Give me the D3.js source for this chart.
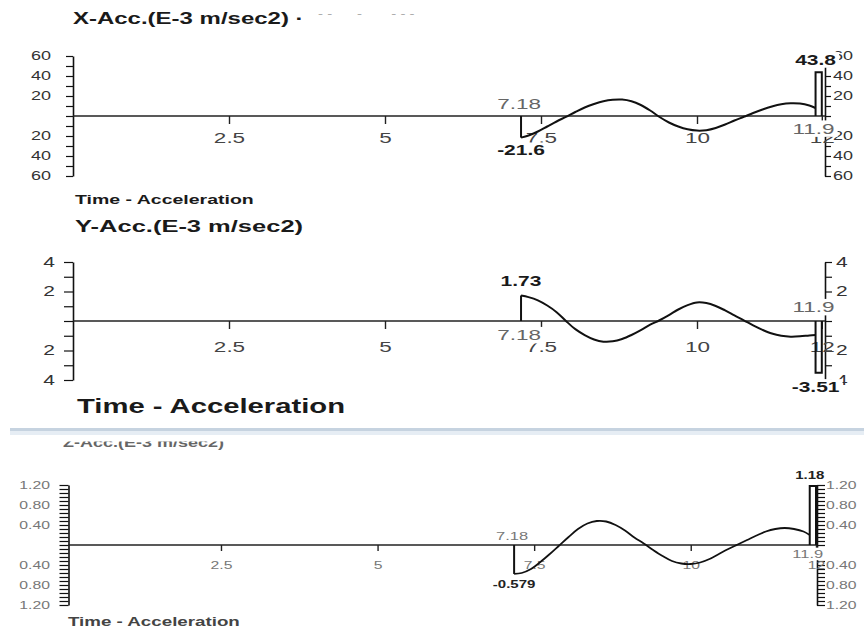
<!DOCTYPE html>
<html>
<head>
<meta charset="utf-8">
<script src="https://cdn.jsdelivr.net/npm/d3@7"></script>
<style>
  html, body { margin: 0; padding: 0; background: #fff; }
  svg { display: block; font-family: "Liberation Sans", Arial, Helvetica, sans-serif; }
</style>
</head>
<body>
<svg id="chart" width="864" height="633"></svg>
<script>
// Sample times (s) shared by the three acceleration channels
const sampleTimes = [7.18, 7.3, 7.45, 7.6, 7.75, 7.9, 8.05, 8.2, 8.35, 8.5, 8.65, 8.8, 8.95,
  9.1, 9.25, 9.4, 9.55, 9.7, 9.85, 10.0, 10.15, 10.3, 10.45, 10.6, 10.75, 10.9, 11.05,
  11.2, 11.35, 11.5, 11.65, 11.8, 11.9];

// Acceleration readings (E-3 m/sec2)
const xAccValues = [-21.6, -19.5, -15.5, -10.5, -5.5, -0.8, 4, 8.5, 12, 14.8, 16.3, 16.5, 14.8,
  11, 5.5, -1, -6.5, -10.5, -13.3, -14.6, -14.2, -12, -8.5, -4.5, -0.8, 3, 6.5,
  9.5, 11.8, 12.8, 12.5, 10.5, 8];
const yAccValues = [1.73, 1.62, 1.4, 1.05, 0.6, 0.0, -0.55, -0.95, -1.25, -1.4, -1.38, -1.22, -0.95,
  -0.62, -0.25, 0.05, 0.4, 0.78, 1.08, 1.26, 1.22, 1.02, 0.72, 0.38, 0.05, -0.3, -0.6,
  -0.85, -1.0, -1.06, -1.04, -0.98, -0.95];
const zAccValues = [-0.579, -0.56, -0.48, -0.34, -0.18, -0.01, 0.16, 0.32, 0.43, 0.48, 0.47, 0.4, 0.29,
  0.15, 0.03, -0.1, -0.22, -0.32, -0.37, -0.38, -0.35, -0.28, -0.18, -0.08, 0.01, 0.1, 0.19,
  0.27, 0.32, 0.34, 0.32, 0.27, 0.2];

// Peak reached by the closing spike of each record
const endValues = [43.8, -3.51, 1.18];
const startTime = 7.18;
const endTime = 11.9;
const spikeEndTime = 12;

// Axis ticks
const timeTicks = [2.5, 5, 7.5, 10, 12];
const yLimits = [60, 4, 1.2];
const yMinorCounts = [6, 4, 15];      // minor ticks on each side of zero
const yLabelEvery = [2, 2, 5];        // label every n-th minor tick
const yLabelDigits = [0, 0, 2];

const channelTitles = ["X-Acc.(E-3 m/sec2)", "Y-Acc.(E-3 m/sec2)", "Z-Acc.(E-3 m/sec2)"];
const footerTitle = "Time - Acceleration";

// Layout of the three stacked panels
const layouts = [
  { xr: [73, 821.8], axisL: 73, axisR: 825, zeroY: 116, yr: [176, 56],
    title: { x: 73, y: 24, size: 16, fill: "#1a1a1a" },
    footer: { x: 75, y: 204, size: 13, fill: "#1a1a1a" },
    leftTick: 7, leftGap: 22, rightTick: 6, rightGap: 8, axisFont: 12, axisFill: "#333",
    xTickLen: 8, xLabelGap: 22, xFont: 15, xFill: "#444",
    timeFont: 15, timeFill: "#666", valueFont: 14, valueFill: "#1a1a1a",
    timeGap: 12.5, valueGap: 12.5, sx: 1.5, lineW: 2 },
  { xr: [73, 821.8], axisL: 73, axisR: 825, zeroY: 321, yr: [380, 262],
    title: { x: 75, y: 232, size: 17, fill: "#1a1a1a" },
    footer: { x: 77, y: 413, size: 19.5, fill: "#1a1a1a" },
    leftTick: 9, leftGap: 18, rightTick: 7, rightGap: 11, axisFont: 14, axisFill: "#333",
    xTickLen: 8, xLabelGap: 26, xFont: 15, xFill: "#444",
    timeFont: 15, timeFill: "#666", valueFont: 14, valueFill: "#1a1a1a",
    timeGap: 14, valueGap: 14, sx: 1.5, lineW: 2 },
  { xr: [64.4, 816], axisL: 68.5, axisR: 817, zeroY: 545, yr: [605, 485],
    title: { x: 63, y: 447, size: 12, fill: "#666", clipTop: 441.5 },
    footer: { x: 68, y: 626, size: 12.5, fill: "#444" },
    leftTick: 9, leftGap: 18.5, rightTick: 8, rightGap: 9, axisFont: 10.5, axisFill: "#777",
    xTickLen: 6, xLabelGap: 20, xFont: 10.5, xFill: "#777",
    timeFont: 11, timeFill: "#777", valueFont: 10, valueFill: "#222",
    timeGap: 9, valueGap: 10.5, sx: 1.5, lineW: 1.8 }
];

const seriesValues = [xAccValues, yAccValues, zAccValues];
const svg = d3.select("#chart");

// Text stretched horizontally, optionally on a white plate that hides what is under it
function stretchedText(parent, x, y, str, o) {
  const g = parent.append("g").attr("transform", `translate(${x},${y}) scale(${o.sx},1)`);
  const t = g.append("text")
    .attr("text-anchor", o.anchor || "start")
    .attr("dy", o.dy || null)
    .style("font-size", o.size + "px")
    .style("font-weight", o.weight || "normal")
    .attr("fill", o.fill || "#222")
    .text(str);
  if (o.plate) {
    const b = t.node().getBBox();
    g.insert("rect", "text")
      .attr("x", b.x - 2).attr("y", b.y)
      .attr("width", b.width + 4).attr("height", b.height)
      .attr("fill", "#fff");
  }
  return g;
}

function styleAxisText(g, L, anchorAttr) {
  g.attr("font-family", null).attr("font-size", null);
  g.selectAll(".tick text").each(function () {
    const t = d3.select(this);
    const v = +t.attr(anchorAttr) || 0;
    t.attr(anchorAttr, anchorAttr === "x" ? v / L.sx : v)
      .attr("transform", `scale(${L.sx},1)`);
  });
}

layouts.forEach((L, i) => {
  const panel = svg.append("g").attr("class", "panel");
  const values = seriesValues[i];
  const lim = yLimits[i];
  const x = d3.scaleLinear().domain([0, 12]).range(L.xr);
  const y = d3.scaleLinear().domain([-lim, lim]).range(L.yr);
  const step = lim / yMinorCounts[i];
  const minor = d3.range(-yMinorCounts[i], yMinorCounts[i] + 1);
  const tickVals = minor.map(k => k * step);
  const fmt = d => {
    const k = Math.round(d / step);
    if (k === 0 || k % yLabelEvery[i] !== 0) return "";
    return Math.abs(d).toFixed(yLabelDigits[i]);
  };

  // Title (the lowest one is cut by the separator above it)
  const titleG = panel.append("g");
  if (L.title.clipTop) {
    const id = "clip" + i;
    svg.append("defs").append("clipPath").attr("id", id)
      .append("rect").attr("x", 0).attr("y", L.title.clipTop).attr("width", 864).attr("height", 30);
    titleG.attr("clip-path", `url(#${id})`);
  }
  stretchedText(titleG, L.title.x, L.title.y, channelTitles[i] + (i === 0 ? " ·" : ""),
    { sx: L.sx, size: L.title.size, weight: "bold", fill: L.title.fill });
  if (i === 0) {
    stretchedText(titleG, 318, 17, "- -      -       - - -",
      { sx: L.sx, size: 10, fill: "#a8a8a8" }).select("text").style("white-space", "pre");
  }

  // Footer
  stretchedText(panel, L.footer.x, L.footer.y, footerTitle,
    { sx: L.sx, size: L.footer.size, weight: "bold", fill: L.footer.fill });

  // Left value axis
  const left = panel.append("g")
    .attr("transform", `translate(${L.axisL},0)`)
    .call(d3.axisLeft(y).tickValues(tickVals).tickFormat(fmt)
      .tickSize(L.leftTick).tickSizeOuter(0).tickPadding(L.leftGap - L.leftTick));
  left.select(".domain").attr("stroke", "#111").attr("stroke-width", 1.6);
  left.selectAll(".tick line").attr("stroke", "#111").attr("stroke-width", 1.2);
  left.selectAll(".tick text").style("font-size", L.axisFont + "px").attr("fill", L.axisFill);
  styleAxisText(left, L, "x");

  // Right value axis
  const right = panel.append("g")
    .attr("transform", `translate(${L.axisR},0)`)
    .call(d3.axisRight(y).tickValues(tickVals).tickFormat(fmt)
      .tickSize(L.rightTick).tickSizeOuter(0).tickPadding(L.rightGap - L.rightTick));
  right.select(".domain").attr("stroke", "#111").attr("stroke-width", 1.6);
  right.selectAll(".tick line").attr("stroke", "#111").attr("stroke-width", 1.2);
  right.selectAll(".tick text").style("font-size", L.axisFont + "px").attr("fill", L.axisFill);
  styleAxisText(right, L, "x");

  // Zero line and time axis
  panel.append("line")
    .attr("x1", L.axisL).attr("x2", L.axisR)
    .attr("y1", y(0)).attr("y2", y(0))
    .attr("stroke", "#222").attr("stroke-width", 1.5);
  const bottom = panel.append("g")
    .attr("transform", `translate(0,${y(0)})`)
    .call(d3.axisBottom(x).tickValues(timeTicks).tickFormat(d => String(d))
      .tickSize(L.xTickLen).tickSizeOuter(0));
  bottom.select(".domain").remove();
  bottom.selectAll(".tick line").attr("stroke", "#222").attr("stroke-width", 1.4);
  bottom.selectAll(".tick text")
    .attr("y", L.xLabelGap).attr("dy", "0.35em")
    .style("font-size", L.xFont + "px").attr("fill", L.xFill);
  styleAxisText(bottom, L, "y");

  // Record: opening edge, waveform, closing spike
  const ink = "#111";
  panel.append("path")
    .attr("d", d3.line()([[x(startTime), y(0)], [x(startTime), y(values[0])]]))
    .attr("fill", "none").attr("stroke", ink).attr("stroke-width", 2);
  panel.append("path")
    .datum(sampleTimes.map((t, k) => [t, values[k]]))
    .attr("d", d3.line().x(d => x(d[0])).y(d => y(d[1])).curve(d3.curveCatmullRom.alpha(0.5)))
    .attr("fill", "none").attr("stroke", ink).attr("stroke-width", L.lineW)
    .attr("stroke-linejoin", "round");
  const ev = endValues[i];
  panel.append("path")
    .attr("d", d3.line()([[x(endTime), y(0)], [x(endTime), y(ev)], [x(spikeEndTime), y(ev)], [x(spikeEndTime), y(0)]]))
    .attr("fill", "none").attr("stroke", ink).attr("stroke-width", 2);

  // Start / end annotations
  const marks = [
    { t: startTime, v: values[0] },
    { t: endTime, v: ev }
  ];
  marks.forEach(m => {
    const s = Math.sign(m.v);
    stretchedText(panel, x(m.t) - 2, y(0) + s * L.timeGap, String(m.t),
      { sx: L.sx, size: L.timeFont, fill: L.timeFill, anchor: "middle", dy: "0.35em", plate: true });
    stretchedText(panel, x(m.t), y(m.v) - s * L.valueGap, String(m.v),
      { sx: L.sx, size: L.valueFont, weight: "bold", fill: L.valueFill, anchor: "middle", dy: "0.35em", plate: true });
  });
});

// Separator between the upper pair and the lower panel
svg.append("rect").attr("x", 10).attr("y", 428).attr("width", 854).attr("height", 3).attr("fill", "#c6d3e0");
svg.append("rect").attr("x", 10).attr("y", 431).attr("width", 854).attr("height", 4).attr("fill", "#e6edf4");
</script>
</body>
</html>
